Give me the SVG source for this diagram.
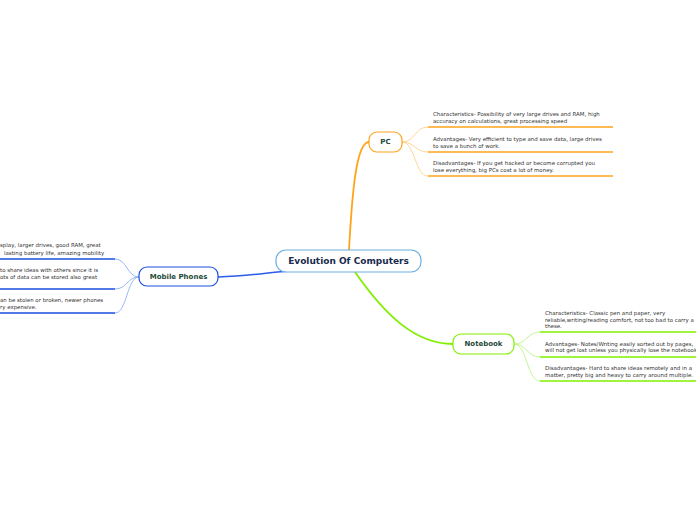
<svg xmlns="http://www.w3.org/2000/svg" width="696" height="520" viewBox="0 0 696 520">
<style>
.t{font-family:"DejaVu Sans",Verdana,sans-serif;font-size:5.45px;fill:#333}
.n{font-family:"DejaVu Sans",Verdana,sans-serif;font-weight:bold;fill:#1d4a3a;text-anchor:middle;dominant-baseline:central}
.c{fill:none}
</style>
<rect width="696" height="520" fill="#fff"/>
<g id="connectors">
<path class="c" d="M349,250 C352,195 356,142 369,142" stroke="#ffa31a" stroke-width="1.8"/>
<path class="c" d="M355,272 C385,315 415,344 453,344" stroke="#80f000" stroke-width="1.8"/>
<path class="c" d="M218,277 C250,276 262,273 290,271" stroke="#2a5ce8" stroke-width="1.5"/>
<g stroke="#ffd08a" stroke-width="0.9" class="c">
<path d="M402,142 C415,142 415,127 428,127"/>
<path d="M402,142 C415,142 415,152 428,152"/>
<path d="M402,142 C415,142 415,176 428,176"/>
</g>
<g stroke="#ffa31a" stroke-width="1.6">
<line x1="428" y1="127" x2="613" y2="127"/>
<line x1="428" y1="152" x2="613" y2="152"/>
<line x1="428" y1="176" x2="613" y2="176"/>
</g>
<g stroke="#b8f58a" stroke-width="0.9" class="c">
<path d="M514,344 C527,344 527,332 540,332"/>
<path d="M514,344 C527,344 527,357 540,357"/>
<path d="M514,344 C527,344 527,381 540,381"/>
</g>
<g stroke="#80f000" stroke-width="1.6">
<line x1="540" y1="332" x2="696" y2="332"/>
<line x1="540" y1="357" x2="696" y2="357"/>
<line x1="540" y1="381" x2="696" y2="381"/>
</g>
<g stroke="#8fb0f5" stroke-width="0.9" class="c">
<path d="M139,277 C127,277 127,259 115,259"/>
<path d="M139,277 C127,277 127,289 115,289"/>
<path d="M139,277 C127,277 127,313 115,313"/>
</g>
<g stroke="#1a4fe0" stroke-width="1.6">
<line x1="0" y1="259" x2="115" y2="259"/>
<line x1="0" y1="289" x2="115" y2="289"/>
<line x1="0" y1="313" x2="115" y2="313"/>
</g>
</g>
<g id="center">
<rect x="276" y="250" width="145" height="22" rx="10" fill="#fff" stroke="#6aaee0" stroke-width="1.2"/>
<text class="n" x="348.5" y="261" font-size="9" style="fill:#1a2b4f">Evolution Of Computers</text>
</g>
<g id="pc">
<rect x="369" y="132" width="33" height="20" rx="8" fill="#fff" stroke="#ffa31a" stroke-width="1.2"/>
<text class="n" x="385.5" y="142" font-size="7">PC</text>
<text class="t" x="433" y="116">Characteristics- Possibility of very large drives and RAM, high</text>
<text class="t" x="433" y="123">accuracy on calculations, great processing speed</text>
<text class="t" x="433" y="141">Advantages- Very efficient to type and save data, large drives</text>
<text class="t" x="433" y="148">to save a bunch of work.</text>
<text class="t" x="433" y="165">Disadvantages- If you get hacked or become corrupted you</text>
<text class="t" x="433" y="172">lose everything, big PCs cost a lot of money.</text>
</g>
<g id="notebook">
<rect x="453" y="334" width="61" height="20" rx="8" fill="#fff" stroke="#80f000" stroke-width="1.2"/>
<text class="n" x="483.5" y="344" font-size="7">Notebook</text>
<text class="t" x="545" y="315">Characteristics- Classic pen and paper, very</text>
<text class="t" x="545" y="322">reliable,writing/reading comfort, not too bad to carry a</text>
<text class="t" x="545" y="328">these.</text>
<text class="t" x="545" y="346">Advantages- Notes/Writing easily sorted out by pages,</text>
<text class="t" x="545" y="352">will not get lost unless you physically lose the notebook</text>
<text class="t" x="545" y="370">Disadvantages- Hard to share ideas remotely and in a</text>
<text class="t" x="545" y="377">matter, pretty big and heavy to carry around multiple.</text>
</g>
<g id="mobile">
<rect x="139" y="267" width="79" height="19" rx="8" fill="#fff" stroke="#1a4fe0" stroke-width="1.2"/>
<text class="n" x="178.5" y="276.5" font-size="7">Mobile Phones</text>
<text class="t" x="0" y="247">splay, larger drives, good RAM, great</text>
<text class="t" x="4" y="255">lasting battery life, amazing mobility</text>
<text class="t" x="0" y="272">to share ideas with others since it is</text>
<text class="t" x="0" y="279">ots of data can be stored also great</text>
<text class="t" x="0" y="302">an be stolen or broken, newer phones</text>
<text class="t" x="0" y="309">ry expensive.</text>
</g>
</svg>
